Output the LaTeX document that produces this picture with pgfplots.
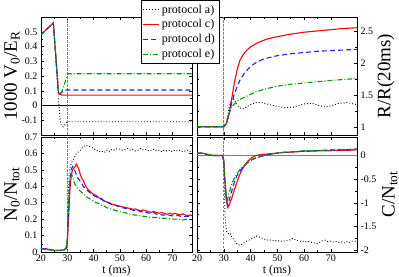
\documentclass[border=0pt]{standalone}
\usepackage{fontspec}
\setmainfont{Liberation Serif}
\usepackage{pgfplots}
\pgfplotsset{compat=1.18}
\definecolor{myred}{RGB}{255,0,0}
\definecolor{myblue}{RGB}{30,30,255}
\definecolor{mygreen}{RGB}{0,150,0}
\pgfplotsset{
  panel/.style={
    scale only axis, xmin=20,
    tick align=inside,
    xtick={20,30,...,70}, minor x tick num=1, minor y tick num=1,
    tick label style={font=\fontsize{10}{12}\selectfont},
    xticklabel style={inner sep=1pt, yshift=-1.5pt},
    /pgf/number format/assume math mode=true,
    axis line style={line width=0.6pt},
    every tick/.style={black, line width=0.5pt},
    major tick length=3pt, minor tick length=1.6pt,
    label style={font=\fontsize{19}{22}\selectfont},
    xlabel style={font=\fontsize{12}{14}\selectfont, at={(axis description cs:0.5,-0.112)}, anchor=north, inner sep=0pt},
    clip=true,
  },
  leftp/.style={width=151pt, xmax=77.5},
  rightp/.style={width=160pt, xmax=79.8, yticklabel pos=right},
  vline/.style={gray, line width=0.6pt, dash pattern=on 2.5pt off 1.5pt},
}
\begin{document}
\begin{tikzpicture}
\useasboundingbox (0,0) rectangle (399pt,276pt);

% ---------------- top right
\begin{axis}[panel, rightp, at={(197pt,141pt)}, anchor=south west, height=118pt,
  ymin=0.87, ymax=2.73, ytick={1,1.5,2,2.5}, xticklabels={},
  yticklabels={1,1.5,2,2.5},
  ylabel={R/R(20ms)}, ylabel style={at={(axis description cs:1.18,0.5)}, rotate=0, anchor=center}]
\addplot[vline] coordinates {(30,0.87) (30,2.73)};
\addplot[black, line width=0.9pt, dotted] coordinates {(20,1) (30,1) (31,1.08) (32,1.3) (33,1.45) (34,1.42) (35,1.35) (36,1.3) (37,1.28) (38,1.3) (40,1.35) (42,1.38) (44,1.38) (47,1.35) (50,1.32) (53,1.3) (56,1.31) (60,1.36) (63,1.37) (66,1.33) (68,1.31) (70,1.33) (73,1.37) (76,1.38) (79.8,1.35)};
\addplot[myred, line width=1.1pt] coordinates {(20,1) (30,1) (31,1.05) (32,1.2) (33,1.45) (34,1.7) (35,1.9) (36,2.04) (37,2.12) (38,2.18) (40,2.26) (43,2.33) (46,2.38) (50,2.42) (55,2.46) (60,2.49) (65,2.51) (70,2.53) (75,2.55) (79.8,2.56)};
\addplot[myblue, line width=1.1pt, dash pattern=on 5pt off 3pt] coordinates {(20,1) (30,1) (31,1.05) (32,1.2) (33,1.38) (34,1.52) (35,1.63) (36,1.73) (37,1.8) (38,1.86) (40,1.95) (42,2.01) (45,2.07) (50,2.12) (55,2.15) (60,2.17) (65,2.19) (70,2.2) (79.8,2.22)};
\addplot[mygreen, line width=1.1pt, dash pattern=on 5pt off 2pt on 1pt off 2pt] coordinates {(20,1) (30,1) (31,1.05) (32,1.2) (32.5,1.28) (33,1.32) (34,1.36) (35,1.4) (36,1.43) (38,1.47) (40,1.51) (42,1.55) (45,1.59) (50,1.64) (55,1.67) (60,1.69) (65,1.71) (70,1.73) (79.8,1.76)};
\end{axis}

% ---------------- bottom right
\begin{axis}[panel, rightp, at={(197pt,24pt)}, anchor=south west, height=115pt,
  ymin=-2.04, ymax=0.39, ytick={-2,-1.5,-1,-0.5,0},
  yticklabels={-2,-1.5,-1,-0.5,0},
  xlabel={t (ms)},
  ylabel={C/N\textsubscript{tot}}, ylabel style={at={(axis description cs:1.205,0.5)}, rotate=0, anchor=center}]
\addplot[gray, line width=0.7pt] coordinates {(20,0) (79.8,0)};
\addplot[vline] coordinates {(30,-2.04) (30,0.39)};
\addplot[black, line width=0.9pt, dotted] coordinates {(20,0.05) (22,0.05) (24,0.02) (26,0) (29.5,0) (30,-0.2) (30.5,-1.3) (31,-1.6) (31.5,-1.62) (32,-1.68) (32.5,-1.66) (33,-1.72) (34,-1.8) (35,-1.87) (36,-1.9) (37,-1.87) (38,-1.83) (39,-1.8) (40,-1.77) (41,-1.74) (42,-1.7) (43,-1.72) (44,-1.74) (45,-1.76) (46,-1.79) (47,-1.78) (48,-1.8) (49,-1.79) (50,-1.81) (51,-1.8) (52,-1.82) (53,-1.8) (54,-1.79) (55,-1.78) (56,-1.75) (57,-1.79) (58,-1.8) (59,-1.82) (60,-1.81) (61,-1.83) (62,-1.82) (63,-1.84) (64,-1.85) (65,-1.86) (66,-1.83) (67,-1.8) (68,-1.79) (69,-1.82) (70,-1.81) (71,-1.83) (72,-1.82) (73,-1.84) (74,-1.83) (75,-1.85) (76,-1.82) (77,-1.84) (78,-1.81) (79.8,-1.82)};
\addplot[myred, line width=1.1pt] coordinates {(20,0.05) (22,0.05) (24,0.02) (26,0.0) (28,0.0) (29.5,0.0) (30,-0.1) (30.5,-0.6) (31,-0.95) (31.5,-1.1) (32,-1.05) (33,-0.9) (34,-0.72) (35,-0.55) (36,-0.4) (37,-0.28) (38,-0.2) (39,-0.12) (40,-0.07) (41,-0.03) (42,0.0) (44,0.02) (46,0.03) (48,0.04) (50,0.05) (52,0.06) (55,0.07) (58,0.08) (60,0.09) (63,0.09) (66,0.1) (70,0.1) (74,0.11) (77,0.11) (79.8,0.12)};
\addplot[myblue, line width=1.1pt, dash pattern=on 5pt off 3pt] coordinates {(20,0.05) (22,0.05) (24,0.02) (26,0.0) (28,0.0) (29.5,0.0) (30,-0.1) (30.5,-0.6) (31,-0.95) (31.5,-1.05) (32,-0.95) (33,-0.75) (34,-0.55) (35,-0.42) (36,-0.33) (37,-0.26) (38,-0.2) (39,-0.15) (40,-0.11) (41,-0.08) (42,-0.05) (44,-0.02) (46,0.01) (48,0.03) (50,0.05) (53,0.07) (56,0.08) (60,0.09) (64,0.1) (68,0.11) (72,0.12) (76,0.12) (79.8,0.14)};
\addplot[mygreen, line width=1.1pt, dash pattern=on 5pt off 2pt on 1pt off 2pt] coordinates {(20,0.05) (22,0.05) (24,0.02) (26,0.0) (28,0.0) (29.5,0.0) (30,-0.1) (30.5,-0.55) (31,-0.88) (31.3,-0.95) (32,-0.8) (33,-0.6) (34,-0.48) (35,-0.38) (36,-0.3) (37,-0.24) (38,-0.19) (39,-0.14) (40,-0.1) (42,-0.05) (44,-0.02) (46,0.01) (48,0.03) (50,0.05) (53,0.07) (56,0.08) (60,0.1) (64,0.1) (68,0.11) (72,0.12) (76,0.13) (79.8,0.13)};
\end{axis}

% ---------------- bottom left
\begin{axis}[panel, leftp, at={(41pt,24pt)}, anchor=south west, height=115pt,
  ymin=0, ymax=0.7, ytick={0,0.1,...,0.7},
  yticklabels={0,0.1,0.2,0.3,0.4,0.5,0.6,0.7},
  xlabel={t (ms)},
  ylabel={N\textsubscript{0}/N\textsubscript{tot}}, ylabel style={at={(axis description cs:-0.192,0.5)}, anchor=center}]
\addplot[vline] coordinates {(30,0) (30,0.7)};
\addplot[black, line width=0.9pt, dotted] coordinates {(20,0.02) (22,0.015) (25,0.01) (28,0.01) (29.5,0.015) (30,0.05) (30.3,0.3) (30.8,0.5) (31.5,0.54) (32.5,0.57) (33.5,0.6) (35,0.62) (36,0.64) (37,0.65) (38,0.645) (39,0.64) (40,0.63) (41,0.62) (42,0.61) (43,0.615) (44,0.605) (45,0.62) (46,0.61) (47,0.625) (48,0.62) (49,0.63) (50,0.625) (51,0.62) (52,0.625) (53,0.63) (54,0.62) (55,0.625) (56,0.615) (57,0.62) (58,0.63) (59,0.62) (60,0.625) (61,0.615) (62,0.62) (63,0.625) (64,0.615) (65,0.62) (66,0.61) (67,0.62) (68,0.615) (69,0.62) (70,0.61) (71,0.62) (72,0.615) (73,0.62) (74,0.61) (75,0.615) (76,0.62) (77,0.61) (77.5,0.615)};
\addplot[myred, line width=1.1pt] coordinates {(20,0.02) (22,0.02) (23,0.015) (25,0.01) (27,0.01) (28.5,0.012) (29.5,0.02) (30,0.05) (30.5,0.2) (31,0.38) (31.5,0.46) (32,0.5) (32.5,0.51) (33,0.52) (33.5,0.535) (34,0.52) (34.5,0.5) (35,0.47) (35.5,0.45) (36,0.44) (36.5,0.42) (37,0.4) (37.5,0.39) (38,0.38) (38.5,0.37) (39,0.365) (40,0.35) (41,0.345) (42,0.33) (43,0.325) (44,0.31) (45,0.305) (46,0.3) (47,0.29) (48,0.288) (49,0.282) (50,0.28) (51,0.274) (52,0.272) (53,0.268) (54,0.265) (55,0.26) (56,0.262) (57,0.255) (58,0.25) (59,0.256) (60,0.25) (61,0.245) (62,0.242) (63,0.247) (64,0.24) (65,0.236) (66,0.24) (67,0.235) (68,0.23) (69,0.236) (70,0.23) (71,0.236) (72,0.23) (73,0.226) (74,0.232) (75,0.225) (76,0.222) (77,0.226) (77.5,0.22)};
\addplot[myblue, line width=1.1pt, dash pattern=on 5pt off 3pt] coordinates {(20,0.02) (22,0.02) (24,0.012) (26,0.01) (28,0.01) (29.5,0.02) (30,0.06) (30.5,0.25) (31,0.42) (31.5,0.5) (32,0.52) (32.5,0.51) (33,0.49) (33.5,0.47) (34,0.45) (34.5,0.44) (35,0.43) (35.5,0.42) (36,0.4) (37,0.385) (38,0.37) (39,0.355) (40,0.345) (41,0.336) (42,0.33) (43,0.32) (44,0.312) (45,0.305) (46,0.296) (47,0.29) (48,0.286) (49,0.28) (50,0.275) (51,0.27) (52,0.266) (53,0.265) (54,0.26) (55,0.255) (56,0.25) (57,0.252) (58,0.245) (59,0.246) (60,0.24) (62,0.235) (63,0.24) (64,0.23) (65,0.232) (66,0.225) (68,0.226) (70,0.22) (72,0.222) (74,0.215) (76,0.217) (77.5,0.215)};
\addplot[mygreen, line width=1.1pt, dash pattern=on 5pt off 2pt on 1pt off 2pt] coordinates {(20,0.02) (22,0.015) (24,0.01) (26,0.008) (28,0.01) (29.5,0.02) (30,0.08) (30.5,0.3) (31,0.44) (31.5,0.48) (32,0.46) (32.5,0.43) (33,0.41) (33.5,0.4) (34,0.385) (35,0.37) (36,0.355) (37,0.34) (38,0.33) (39,0.32) (40,0.31) (41,0.3) (42,0.295) (43,0.285) (44,0.28) (45,0.27) (46,0.265) (47,0.26) (48,0.255) (49,0.25) (50,0.245) (52,0.24) (53,0.235) (54,0.23) (55,0.226) (56,0.225) (58,0.22) (60,0.215) (62,0.21) (64,0.21) (66,0.205) (68,0.206) (70,0.2) (72,0.2) (74,0.195) (76,0.2) (77.5,0.195)};
\end{axis}

% ---------------- top left (with legend, drawn last)
\begin{axis}[panel, leftp, at={(41pt,141pt)}, anchor=south west, height=118pt,
  ymin=-0.2, ymax=0.6, ytick={-0.1,0,0.1,0.2,0.3,0.4,0.5}, xticklabels={},
  yticklabels={-0.1,0,0.1,0.2,0.3,0.4,0.5},
  ylabel={1000 V\textsubscript{0}/E\textsubscript{R}}, ylabel style={at={(axis description cs:-0.192,0.5)}, anchor=center},
  legend style={at={(axis description cs:0.66,1.14)}, anchor=north west,
    font=\fontsize{12}{13}\selectfont, inner xsep=2pt, inner ysep=2pt, row sep=1pt,
    cells={anchor=west}},
  legend image code/.code={\draw[#1] (0pt,0pt) -- (16pt,0pt);}]
\addplot[black, line width=0.6pt, forget plot] coordinates {(20,0) (77.5,0)};
\addplot[vline, forget plot] coordinates {(30,-0.2) (30,0.6)};
\addplot[black, line width=0.9pt, dotted] coordinates {(20,0.48) (24.7,0.56) (26.5,0.08) (27.3,-0.1) (27.8,-0.14) (28.5,-0.145) (29.5,-0.12) (30.2,-0.11) (77.5,-0.11)};
\addlegendentry{protocol a)}
\addplot[myred, line width=1.1pt] coordinates {(20,0.48) (24.7,0.56) (26.7,0.08) (28,0.07) (77.5,0.07)};
\addlegendentry{protocol c)}
\addplot[myblue, line width=1.1pt, dash pattern=on 5pt off 3pt] coordinates {(20,0.48) (24.7,0.56) (26.7,0.08) (27.5,0.085) (29,0.105) (77.5,0.105)};
\addlegendentry{protocol d)}
\addplot[mygreen, line width=1.1pt, dash pattern=on 5pt off 2pt on 1pt off 2pt] coordinates {(20,0.48) (24.7,0.56) (26.7,0.08) (27.8,0.085) (30.2,0.215) (77.5,0.215)};
\addlegendentry{protocol e)}
\end{axis}
\end{tikzpicture}
\end{document}
